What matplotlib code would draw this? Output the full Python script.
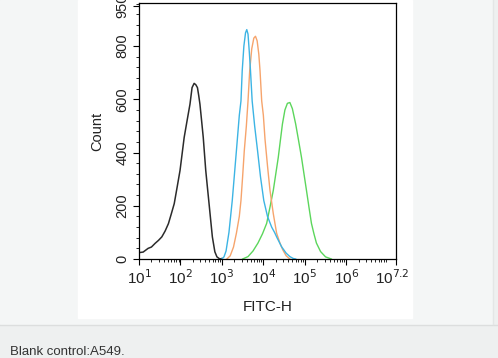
import numpy as np
import matplotlib
matplotlib.use("Agg")
from matplotlib import pyplot as plt
from matplotlib.patches import Rectangle
from matplotlib.lines import Line2D
from matplotlib.ticker import LogLocator, MultipleLocator, NullFormatter, FixedLocator
import matplotlib.transforms as mtransforms

plt.rcParams['font.family'] = ['Liberation Sans', 'DejaVu Sans']

# histogram outlines: log10(FITC-H) and count
black_log = [1.0, 1.1, 1.22, 1.3, 1.39, 1.47, 1.55, 1.63, 1.71, 1.78, 1.85, 1.92, 1.99,
             2.04, 2.09, 2.16, 2.23, 2.28, 2.33, 2.37, 2.41, 2.44, 2.47, 2.51, 2.55,
             2.58, 2.61, 2.65, 2.69, 2.73, 2.77, 2.83, 2.88, 2.95, 3.0]
black_cnt = [24, 26, 40, 45, 59, 70, 83, 105, 133, 170, 208, 270, 333,
             395, 457, 520, 582, 644, 660, 655, 644, 615, 582, 520, 457,
             395, 333, 270, 208, 145, 83, 27, 8, 0, 2]

blue_log = [3.0, 3.05, 3.1, 3.17, 3.25, 3.35, 3.42, 3.46, 3.49, 3.53, 3.57, 3.6, 3.63,
            3.66, 3.69, 3.73, 3.79, 3.86, 3.93, 4.01, 4.1, 4.2, 4.27, 4.33, 4.44,
            4.55, 4.64, 4.72, 4.78]
blue_cnt = [0, 8, 30, 100, 220, 407, 540, 594, 707, 800, 850, 862, 845,
            780, 707, 594, 500, 407, 310, 220, 160, 120, 100, 80, 46,
            22, 9, 2, 0]

orange_log = [3.12, 3.2, 3.28, 3.35, 3.42, 3.46, 3.5, 3.54, 3.59, 3.63, 3.67, 3.72, 3.77,
              3.81, 3.85, 3.89, 3.92, 3.96, 4.0, 4.04, 4.1, 4.16, 4.24, 4.32, 4.4,
              4.47, 4.55, 4.64]
orange_cnt = [0, 12, 45, 97, 160, 220, 310, 407, 500, 594, 707, 790, 830,
              837, 820, 770, 707, 594, 540, 450, 350, 258, 170, 97, 60,
              34, 12, 0]

green_log = [3.5, 3.63, 3.75, 3.87, 3.98, 4.08, 4.16, 4.24, 4.3, 4.36, 4.41, 4.46, 4.52,
             4.58, 4.64, 4.7, 4.78, 4.85, 4.92, 4.98, 5.04, 5.1, 5.16, 5.22, 5.28,
             5.38, 5.5, 5.64]
green_cnt = [0, 9, 30, 60, 95, 134, 195, 258, 320, 382, 445, 507, 560,
             585, 588, 565, 507, 445, 382, 320, 258, 195, 134, 95, 60,
             28, 8, 0]

x_ticks_log = [1, 2, 3, 4, 5, 6, 7.2]
x_tick_labels = ['10$^1$', '10$^2$', '10$^3$', '10$^4$', '10$^5$', '10$^6$', '10$^{7.2}$']
y_ticks = [0, 200, 400, 600, 800, 950]

fig = plt.figure(figsize=(4.98, 3.58), dpi=100)
fig.patch.set_facecolor('#eef0f0')

# page background pieces
fig.patches.append(Rectangle((0, 1 - 324 / 358), 493 / 498, 324 / 358,
                             transform=fig.transFigure, color='#f4f6f6', zorder=-3))
fig.patches.append(Rectangle((78 / 498, 1 - 318 / 358), 334 / 498, 318 / 358,
                             transform=fig.transFigure, color='white', zorder=-2))
fig.lines.append(Line2D([0, 1], [1 - 324.5 / 358] * 2, transform=fig.transFigure,
                        color='#dcdede', lw=1))
fig.lines.append(Line2D([493 / 498] * 2, [1 - 324 / 358, 1], transform=fig.transFigure,
                        color='#e4e6e6', lw=1))

ax = fig.add_axes([139 / 498, 1 - 259 / 358, 257 / 498, 256 / 358])
ax.set_facecolor('white')

ax.plot(10 ** np.array(black_log), black_cnt, color='#2b2b2b', lw=1.1)
ax.plot(10 ** np.array(green_log), green_cnt, color='#5cd65c', lw=1.0)
ax.plot(10 ** np.array(orange_log), orange_cnt, color='#f6a46c', lw=1.0)
ax.plot(10 ** np.array(blue_log), blue_cnt, color='#3cb4e4', lw=1.0)

ax.set_xscale('log')
ax.set_xlim(10 ** 1, 10 ** 7.2)
ax.set_ylim(0, 962)

ax.xaxis.set_major_locator(FixedLocator([10 ** v for v in x_ticks_log]))
ax.set_xticklabels(x_tick_labels, fontsize=11, color='#222222')
ax.xaxis.set_minor_locator(LogLocator(base=10, subs=np.arange(2, 10), numticks=20))
ax.xaxis.set_minor_formatter(NullFormatter())

ax.set_yticks(y_ticks)
ax.set_yticklabels([str(v) for v in y_ticks], fontsize=10.5, color='#222222',
                   rotation=90, va='center')
ax.yaxis.set_minor_locator(MultipleLocator(40))

ax.tick_params(which='major', direction='out', length=4, width=0.8, pad=3)
ax.tick_params(which='minor', direction='out', length=2, width=0.6)
for s in ax.spines.values():
    s.set_linewidth(0.9)

# last label sits a little left of the axis end
lab = ax.get_xticklabels()[-1]
lab.set_transform(lab.get_transform() +
                  mtransforms.ScaledTranslation(-4 / 100, 0, fig.dpi_scale_trans))

ax.set_xlabel('FITC-H', fontsize=11, color='#222222', labelpad=9)
ax.set_ylabel('Count', fontsize=10.5, color='#222222', labelpad=8)

fig.text(10 / 498, 1 - 355 / 358, 'Blank control:A549.', fontsize=9.5,
         color='#333333', va='baseline', ha='left')

fig.savefig('out.png', dpi=100, facecolor=fig.get_facecolor())
